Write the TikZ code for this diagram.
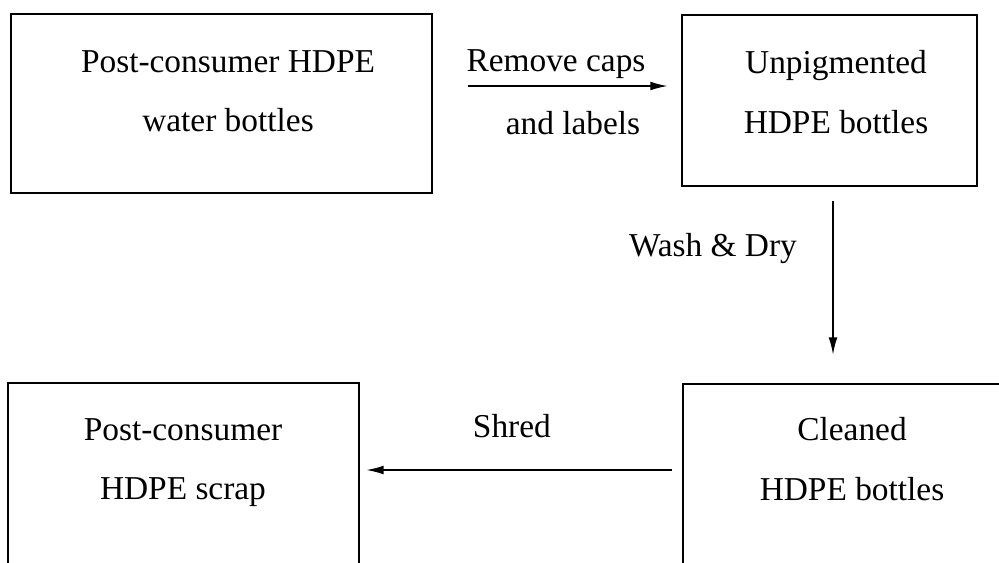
\documentclass[tikz,border=0pt]{standalone}
\usepackage{fontspec}
\setmainfont{Liberation Serif}
\usetikzlibrary{positioning, arrows.meta}

\tikzset{
    box/.style={draw, line width=1.6pt, inner sep=0pt, outer sep=0pt},
    txt/.style={align=center, inner sep=0pt, anchor=north, font=\fontsize{19}{34}\selectfont},
    lbl/.style={inner sep=0pt, font=\fontsize{19}{34}\selectfont},
    flow/.style={->, line width=1.1pt},
}

\begin{document}
\begin{tikzpicture}[x=0.02cm, y=-0.02cm, >={Latex[length=10pt, width=5pt]}]
    \useasboundingbox (0,0) rectangle (999,562);
    \clip (0,0) rectangle (999,562);

    % boxes
    \node[box, minimum width=8.42cm, minimum height=3.58cm] (bottles) at (221.5,103.5) {};
    \node[box, minimum width=5.90cm, minimum height=3.42cm] (unpig) at (829.5,100.5) {};
    \node[box, minimum width=7.02cm, minimum height=3.84cm] (scrap) at (183.5,479) {};
    \node[box, minimum width=6.54cm, minimum height=3.82cm] (clean) at (846.5,479.5) {};

    \node[txt] (bottlesT) at (228,50) {Post-consumer HDPE\\water bottles};
    \node[txt] (unpigT) at (836,50) {Unpigmented\\HDPE bottles};
    \node[txt] (scrapT) at (183,418) {Post-consumer\\HDPE scrap};
    \node[txt] (cleanT) at (852,417) {Cleaned\\HDPE bottles};

    % steps
    \coordinate (capsY) at (0,86);
    \draw[flow, shorten <=20.5pt, shorten >=8pt] (bottles.east |- capsY) -- (unpig.west |- capsY)
        node[lbl, pos=0.496, above=3.4pt] (capsA) {Remove caps}
        node[lbl, pos=0.564, below=13.6pt] (capsB) {and labels};

    \coordinate (washX) at (833,0);
    \draw[flow, shorten <=8.5pt, shorten >=16.5pt] (washX |- unpig.south) -- (washX |- clean.north)
        node[lbl, pos=0.318, left=20pt] (wash) {Wash \& Dry};

    \coordinate (shredY) at (0,470);
    \draw[flow, shorten <=6.3pt, shorten >=4pt] (clean.west |- shredY) -- (scrap.east |- shredY)
        node[lbl, pos=0.528, above=18pt] (shred) {Shred};
\end{tikzpicture}
\end{document}
